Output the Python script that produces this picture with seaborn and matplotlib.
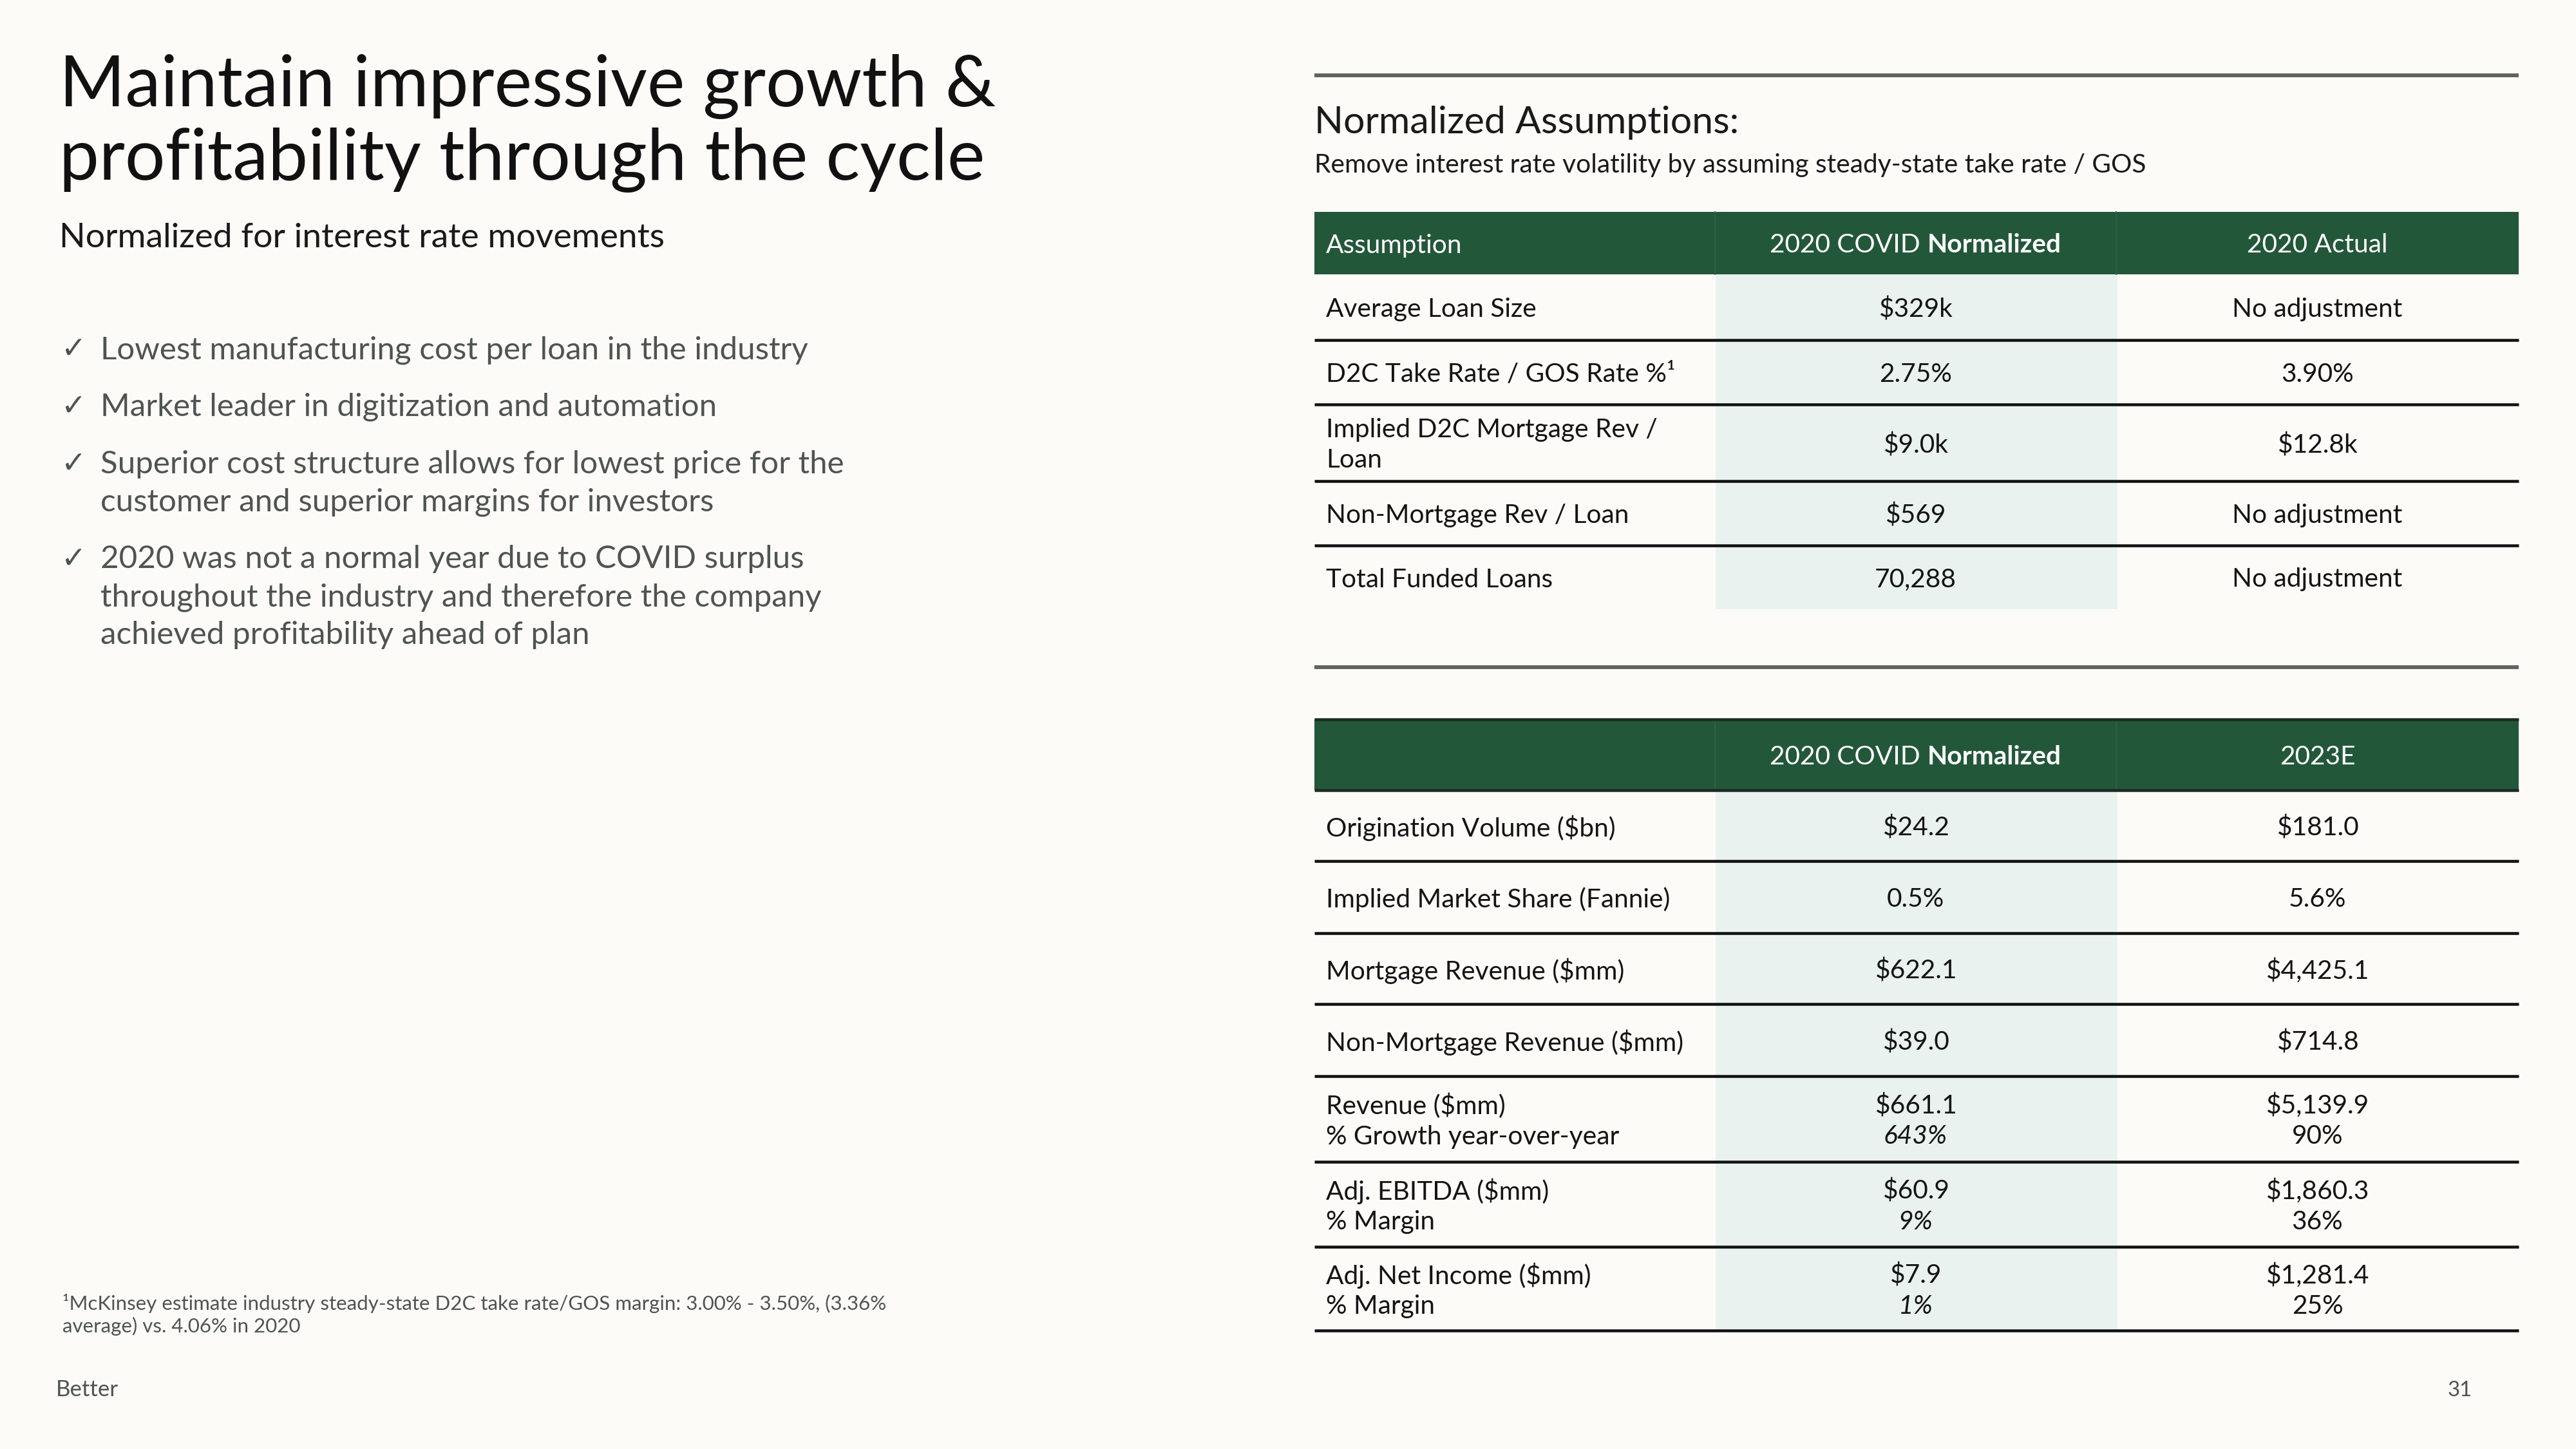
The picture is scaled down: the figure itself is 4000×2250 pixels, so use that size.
import matplotlib
matplotlib.use("Agg")
import matplotlib.pyplot as plt
from matplotlib.colors import ListedColormap
from matplotlib.patches import Rectangle
import numpy as np
import seaborn as sns

# ---------------- data ----------------
title_lines = ["Maintain impressive growth &", "profitability through the cycle"]
subtitle = "Normalized for interest rate movements"
bullets = [
    ["Lowest manufacturing cost per loan in the industry"],
    ["Market leader in digitization and automation"],
    ["Superior cost structure allows for lowest price for the",
     "customer and superior margins for investors"],
    ["2020 was not a normal year due to COVID surplus",
     "throughout the industry and therefore the company",
     "achieved profitability ahead of plan"],
]
footnote_lines = ["¹McKinsey estimate industry steady-state D2C take rate/GOS margin: 3.00% - 3.50%, (3.36%",
                  "average) vs. 4.06% in 2020"]
footer_left = "Better"
page_number = "31"

panel_title = "Normalized Assumptions:"
panel_sub = "Remove interest rate volatility by assuming steady-state take rate / GOS"

t1_header = ["Assumption", "2020 COVID ", "Normalized", "2020 Actual"]
t1_labels = [["Average Loan Size"],
             ["D2C Take Rate / GOS Rate %¹"],
             ["Implied D2C Mortgage Rev /", "Loan"],
             ["Non-Mortgage Rev / Loan"],
             ["Total Funded Loans"]]
t1_norm = ["$329k", "2.75%", "$9.0k", "$569", "70,288"]
t1_actual = ["No adjustment", "3.90%", "$12.8k", "No adjustment", "No adjustment"]

t2_header = ["", "2020 COVID ", "Normalized", "2023E"]
t2_labels = [["Origination Volume ($bn)"],
             ["Implied Market Share (Fannie)"],
             ["Mortgage Revenue ($mm)"],
             ["Non-Mortgage Revenue ($mm)"],
             ["Revenue ($mm)", "% Growth year-over-year"],
             ["Adj. EBITDA ($mm)", "% Margin"],
             ["Adj. Net Income ($mm)", "% Margin"]]
t2_norm = [["$24.2"], ["0.5%"], ["$622.1"], ["$39.0"],
           ["$661.1", "643%"], ["$60.9", "9%"], ["$7.9", "1%"]]
t2_2023 = [["$181.0"], ["5.6%"], ["$4,425.1"], ["$714.8"],
           ["$5,139.9", "90%"], ["$1,860.3", "36%"], ["$1,281.4", "25%"]]

# ---------------- style ----------------
BG = "#FDFBF8"
GREEN = "#23573A"
LIGHT = "#E9F2EE"
RULE = "#5F625F"
TXT = "#141414"
GRAY = "#4F5451"
FS_T = 11.7   # table font size

sns.set_theme(style="white")
plt.rcParams["font.family"] = ["Lato", "DejaVu Sans"]

W, H = 4000, 2250
fig = plt.figure(figsize=(16, 9), dpi=250, facecolor=BG)
ax = fig.add_axes([0, 0, 1, 1], zorder=2)
ax.set_xlim(0, W)
ax.set_ylim(H, 0)
ax.axis("off")
ax.patch.set_alpha(0)
renderer = fig.canvas.get_renderer()


def txt(x, y, s, size, color=TXT, ha="left", va="baseline", **kw):
    return ax.text(x, y, s, fontsize=size, color=color, ha=ha, va=va,
                   parse_math=False, **kw)


def width_of(s, size, weight="normal"):
    t = ax.text(0, 0, s, fontsize=size, fontweight=weight, parse_math=False)
    w = t.get_window_extent(renderer).width
    t.remove()
    return w


def mixed_center(xc, y, parts, size, color):
    sp = width_of("a b", size) - width_of("ab", size)
    widths = []
    for s, wgt in parts:
        w = width_of(s.strip(), size, wgt)
        if s.endswith(" "):
            w += sp
        widths.append(w)
    x = xc - sum(widths) / 2
    for (s, wgt), w in zip(parts, widths):
        txt(x, y, s.strip(), size, color=color, fontweight=wgt, va="center_baseline", zorder=4)
        x += w


def shade_table(x0, x1, y0, y1):
    # seaborn heatmap paints the body of a table, highlighting the middle column
    hax = fig.add_axes([x0 / W, 1 - y1 / H, (x1 - x0) / W, (y1 - y0) / H], zorder=1)
    sns.heatmap(np.array([[0, 1, 0]]), ax=hax, cmap=ListedColormap([BG, LIGHT]),
                cbar=False, xticklabels=False, yticklabels=False, vmin=0, vmax=1)
    hax.axis("off")


# ---------------- left side ----------------
for i, line in enumerate(title_lines):
    txt(92, 165 + i * 114, line, 31.8, color="#111111")
txt(92, 384, subtitle, 15.4, color="#1a1a1a")

base = 557
for group in bullets:
    txt(95, base, "✓", 13.5, color=GRAY)
    for j, line in enumerate(group):
        txt(156, base + j * 58.5, line, 14.2, color=GRAY)
    base += 58.5 * (len(group) - 1) + 89

txt(97, 2034, footnote_lines[0], 9.0, color=GRAY)
txt(97, 2069, footnote_lines[1], 9.0, color=GRAY)
txt(87, 2168, footer_left, 10, color=GRAY)
txt(3839, 2168, page_number, 9.5, color=GRAY, ha="right")

# ---------------- right side ----------------
XL, X1, X2, XR = 2041, 2663, 3286, 3911
C_LEFT = XL + 18
C2 = (X1 + X2) / 2
C3 = (X2 + XR) / 2
LINE_W = 1.3

ax.plot([XL, XR], [117, 117], color=RULE, lw=1.7, solid_capstyle="butt")
txt(XL, 207, panel_title, 17.0, color="#1a1a1a")
txt(XL, 268, panel_sub, 11.7, color="#1a1a1a")

# table 1
h1_top, h1_bot = 329, 426
t1_bounds = [426, 528, 628, 747, 847, 946]
shade_table(XL, XR, h1_bot, t1_bounds[-1])
ax.add_patch(Rectangle((XL, h1_top), XR - XL, h1_bot - h1_top, color=GREEN, lw=0, zorder=3))
ax.plot([X1, X1], [h1_top, h1_bot], color="#2c6244", lw=0.6, zorder=3.5)
ax.plot([X2, X2], [h1_top, h1_bot], color="#2c6244", lw=0.6, zorder=3.5)
hy = (h1_top + h1_bot) / 2
txt(C_LEFT, hy, t1_header[0], FS_T, color="white", va="center_baseline", zorder=4)
mixed_center(C2, hy, [(t1_header[1], "normal"), (t1_header[2], "bold")], FS_T, "white")
txt(C3, hy, t1_header[3], FS_T, color="white", ha="center", va="center_baseline", zorder=4)

for i in range(len(t1_labels)):
    y0, y1 = t1_bounds[i], t1_bounds[i + 1]
    yc = (y0 + y1) / 2
    lab = t1_labels[i]
    gap = 48
    for j, s in enumerate(lab):
        txt(C_LEFT, yc + (j - (len(lab) - 1) / 2) * gap, s, FS_T, va="center_baseline")
    txt(C2, yc, t1_norm[i], FS_T, ha="center", va="center_baseline")
    txt(C3, yc, t1_actual[i], FS_T, ha="center", va="center_baseline")
    if i < len(t1_labels) - 1:
        ax.plot([XL, XR], [y1, y1], color="#111111", lw=LINE_W, solid_capstyle="butt")

ax.plot([XL, XR], [1036, 1036], color=RULE, lw=1.7, solid_capstyle="butt")

# table 2
h2_top, h2_bot = 1117, 1227
t2_bounds = [1227, 1337, 1449, 1559, 1671, 1804, 1936, 2066]
shade_table(XL, XR, h2_bot, t2_bounds[-1])
ax.add_patch(Rectangle((XL, h2_top), XR - XL, h2_bot - h2_top, color=GREEN, lw=0, zorder=3))
ax.plot([X1, X1], [h2_top, h2_bot], color="#2c6244", lw=0.6, zorder=3.5)
ax.plot([X2, X2], [h2_top, h2_bot], color="#2c6244", lw=0.6, zorder=3.5)
ax.plot([XL, XR], [h2_top, h2_top], color="#1c2b22", lw=LINE_W, zorder=4, solid_capstyle="butt")
ax.plot([XL, XR], [h2_bot, h2_bot], color="#1c2b22", lw=LINE_W, zorder=4, solid_capstyle="butt")
hy = (h2_top + h2_bot) / 2
mixed_center(C2, hy, [(t2_header[1], "normal"), (t2_header[2], "bold")], FS_T, "white")
txt(C3, hy, t2_header[3], FS_T, color="white", ha="center", va="center_baseline", zorder=4)

for i in range(len(t2_labels)):
    y0, y1 = t2_bounds[i], t2_bounds[i + 1]
    yc = (y0 + y1) / 2
    n = len(t2_labels[i])
    gap = 48
    for j in range(n):
        yy = yc + (j - (n - 1) / 2) * gap
        txt(C_LEFT, yy, t2_labels[i][j], FS_T, va="center_baseline")
        style = "italic" if j == 1 else "normal"
        txt(C2, yy, t2_norm[i][j], FS_T, ha="center", va="center_baseline", fontstyle=style)
        txt(C3, yy, t2_2023[i][j], FS_T, ha="center", va="center_baseline")
    ax.plot([XL, XR], [y1, y1], color="#111111", lw=LINE_W, solid_capstyle="butt")

fig.savefig("out.png", dpi=250, facecolor=BG)
